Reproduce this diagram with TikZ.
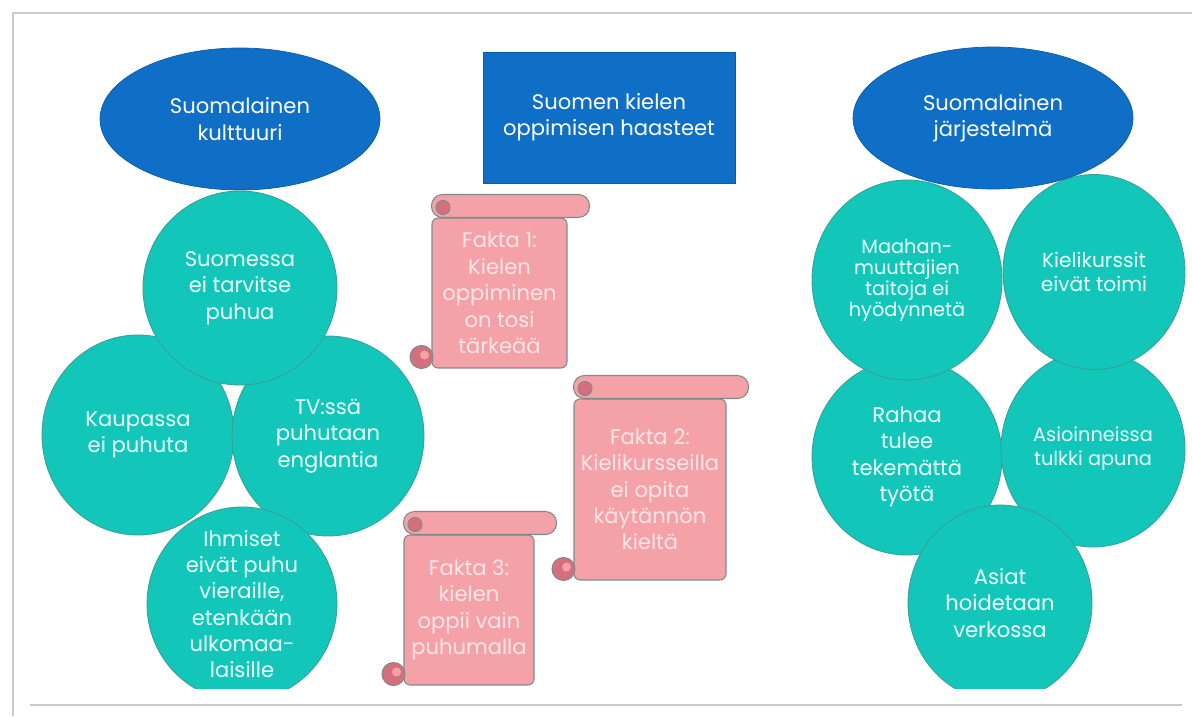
\documentclass[tikz,border=0pt]{standalone}
\usepackage{fontspec}
\setmainfont{Poppins}
\usetikzlibrary{shapes.geometric}

\definecolor{kblue}{HTML}{0F6FC6}
\definecolor{kblueline}{HTML}{0B5CA8}
\definecolor{kteal}{HTML}{12C7B9}
\definecolor{ktealline}{HTML}{3A9E96}
\definecolor{kpink}{HTML}{F4A1A8}
\definecolor{kpinkline}{HTML}{7D8C8A}
\definecolor{kcurl}{HTML}{D66F7C}
\definecolor{kpinktext}{HTML}{FCE6E8}
\definecolor{ktealtext}{HTML}{EFFFFD}
\definecolor{kframe}{HTML}{C9C9C9}

\newcommand{\scrollends}[1]{%
	\draw[scrollroll] ([yshift=0.46cm]#1.north west) rectangle ([xshift=0.44cm]#1.north east);
	\draw[scrollcurl] ([xshift=0.23cm,yshift=0.2cm]#1.north west) circle (0.14cm);
	\draw[scrollcurl] ([xshift=-0.2cm,yshift=0.23cm]#1.south west) circle (0.23cm);
	\fill[kpink] ([xshift=-0.14cm,yshift=0.27cm]#1.south west) circle (0.09cm);
}

\begin{document}
\begin{tikzpicture}[x=0.02cm, y=-0.02cm,
	every node/.style={inner sep=0pt, align=center, font=\fontsize{12}{15}\selectfont},
	headoval/.style={ellipse, fill=kblue, draw=kblueline, text=white, minimum width=5.6cm, minimum height=2.84cm},
	headbox/.style={rectangle, fill=kblue, draw=kblueline, text=white, minimum width=5.04cm, minimum height=2.62cm},
	bubble/.style={ellipse, fill=kteal, draw=ktealline, line width=0.5pt},
	bubbletext/.style={text=ktealtext},
	scrollbody/.style={rectangle, rounded corners=0.12cm, fill=kpink, draw=kpinkline, line width=0.6pt, text=kpinktext},
	scrollroll/.style={fill=kpink, draw=kpinkline, line width=0.6pt, rounded corners=0.22cm},
	scrollcurl/.style={fill=kcurl, draw=kpinkline, line width=0.6pt},
	frameline/.style={draw=kframe, line width=0.8pt}]
	\useasboundingbox (0,0) rectangle (1192,716);
	\fill[white] (0,0) rectangle (1192,716);
	\draw[frameline] (13,716) -- (13,13) -- (1192,13);
	\draw[frameline] (30,705) -- (1182,705);
	\begin{scope}
	\clip (0,0) rectangle (1192,688);
	\node[headoval] (kulttuuri) at (240,119) {Suomalainen\\kulttuuri};
	\node[headbox] (haasteet) at (609,117.5) {Suomen kielen\\oppimisen haasteet};
	\node[bubble, minimum width=3.84cm, minimum height=4cm] (c2) at (138,435) {};
	\node[bubbletext] (c2t) at (c2) {Kaupassa\\ei puhuta};
	\node[bubble, minimum width=3.84cm, minimum height=4cm] (c3) at (328,436) {};
	\node[bubbletext] (c3t) at (c3) {TV:ssä\\puhutaan\\englantia};
	\node[bubble, minimum width=3.88cm, minimum height=3.88cm] (c1) at (240,288) {};
	\node[bubbletext] (c1t) at (c1) {Suomessa\\ei tarvitse\\puhua};
	\node[bubble, minimum width=3.8cm, minimum height=3.88cm] (c4) at (242,604) {};
	\node[bubbletext] (c4t) at (c4) {Ihmiset\\eivät puhu\\vieraille,\\etenkään\\ulkomaa-\\laisille};
	\node[scrollbody, minimum width=2.7cm, minimum height=3cm] (f1) at (499.5,293) {Fakta 1:\\Kielen\\oppiminen\\on tosi\\tärkeää};
	\scrollends{f1}
	\node[scrollbody, minimum width=3.04cm, minimum height=3.62cm] (f2) at (650,489.5) {Fakta 2:\\Kielikursseilla\\ei opita\\käytännön\\kieltä};
	\scrollends{f2}
	\node[scrollbody, minimum width=2.6cm, minimum height=3cm] (f3) at (469,610) {Fakta 3:\\kielen\\oppii vain\\puhumalla};
	\scrollends{f3}
	\node[bubble, minimum width=3.8cm, minimum height=3.92cm] (r3) at (907,457) {};
	\node[bubbletext] (r3t) at (r3) {Rahaa\\tulee\\tekemättä\\työtä};
	\node[bubble, minimum width=3.68cm, minimum height=3.92cm] (r4) at (1093,449) {};
	\node[bubbletext, font=\fontsize{11}{13.5}\selectfont] (r4t) at (r4) {Asioinneissa\\tulkki apuna};
	\node[bubble, minimum width=3.8cm, minimum height=4cm] (r1) at (907,280) {};
	\node[bubbletext, font=\fontsize{11}{12}\selectfont] (r1t) at (r1) {Maahan-\\muuttajien\\taitoja ei\\hyödynnetä};
	\node[bubble, minimum width=3.64cm, minimum height=3.9cm] (r2) at (1094,272) {};
	\node[bubbletext, font=\fontsize{11.5}{13.5}\selectfont] (r2t) at (r2) {Kielikurssit\\eivät toimi};
	\node[headoval] (jarjestelma) at (993,118) {Suomalainen\\järjestelmä};
	\node[bubble, minimum width=3.68cm, minimum height=3.92cm] (r5) at (1000,603) {};
	\node[bubbletext] (r5t) at (r5) {Asiat\\hoidetaan\\verkossa};
	\end{scope}
\end{tikzpicture}
\end{document}
